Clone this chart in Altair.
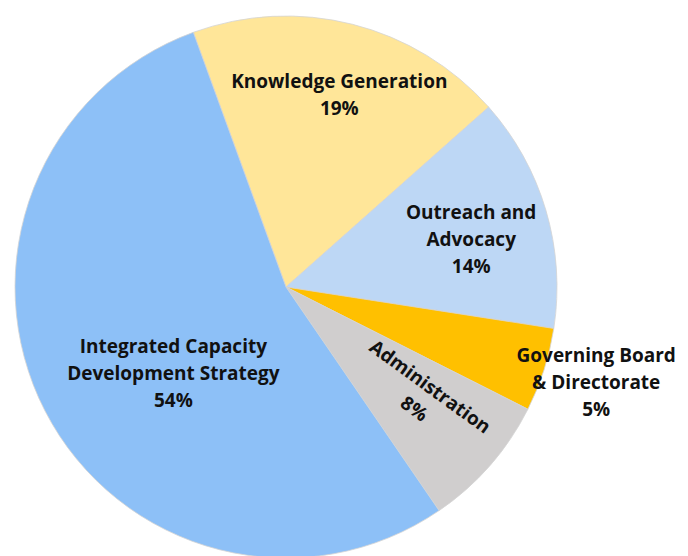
import math
import altair as alt
import pandas as pd

categories = ["Knowledge Generation", "Outreach and Advocacy", "Governing Board & Directorate",
              "Administration", "Integrated Capacity Development Strategy"]
values = [19, 14, 5, 8, 54]
label_text = ["Knowledge Generation\n19%", "Outreach and\nAdvocacy\n14%",
              "Governing Board\n& Directorate\n5%", "Administration\n8%",
              "Integrated Capacity\nDevelopment Strategy\n54%"]
colors = ["#FFE699", "#BDD7F5", "#FFC000", "#D0CECE", "#8DC0F7"]
# label styling: distance from centre, extra pixel nudge, rotation
label_radius = [201, 192, 330, 172, 139]
label_dx = [4, 1, -4, 4, 11]
label_dy = [-10, -20, -32, -19, -4]
label_angle = [0, 0, 0, 36, 0]

df = pd.DataFrame({
    "cat": categories, "value": values, "label": label_text,
    "idx": list(range(len(values))), "lr": label_radius, "ang": label_angle,
})

start = -20 * math.pi / 180
tscale = alt.Scale(domain=[0, 100], range=[start, start + 2 * math.pi])
cx, cy = 278, 279

pie = alt.Chart(df).mark_arc(outerRadius=271, stroke="#d4d4d4", strokeWidth=0.8).encode(
    theta=alt.Theta("value:Q", stack=True, scale=tscale),
    order=alt.Order("idx:Q"),
    x=alt.value(cx), y=alt.value(cy),
    color=alt.Color("cat:N", scale=alt.Scale(domain=categories, range=colors), legend=None),
)

txt_kw = dict(font="Open Sans", fontWeight="bold", fontSize=19, lineBreak="\n", lineHeight=27,
              color="#111111", align="center", baseline="middle")

lab_base = alt.Chart(df).transform_window(
    cum="sum(value)", sort=[alt.SortField("idx")],
    frame=[None, 0],
).transform_calculate(
    mid="datum.cum - datum.value / 2",
).encode(
    theta=alt.Theta("mid:Q", stack=None, scale=tscale),
    x=alt.value(cx), y=alt.value(cy),
    radius=alt.Radius("lr:Q", scale=None),
    angle=alt.Angle("ang:Q", scale=None),
)

layers = [pie]
for i in range(len(values)):
    layers.append(
        lab_base.transform_filter(alt.datum.idx == i)
        .mark_text(dx=label_dx[i], dy=label_dy[i], **txt_kw)
        .encode(text="label:N")
    )

chart = alt.layer(*layers).properties(
    width=672, height=548,
    autosize=alt.AutoSizeParams(type="none"),
    padding=0,
).configure_view(stroke=None)

chart.save("out.html", embed_options={"renderer": "svg", "actions": False})
